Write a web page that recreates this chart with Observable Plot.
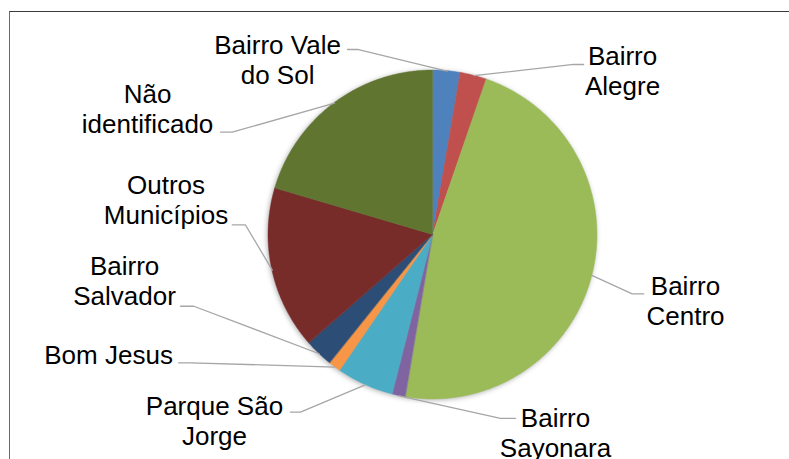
<!DOCTYPE html>
<html><head><meta charset="utf-8">
<script src="https://cdn.jsdelivr.net/npm/d3@7"></script>
<script src="https://cdn.jsdelivr.net/npm/@observablehq/plot@0.6"></script>
<style>
html,body{margin:0;padding:0;background:#fff;}
#wrap{position:relative;width:789px;height:459px;overflow:hidden;}
#border{position:absolute;left:9px;top:11px;width:800px;height:500px;border-top:1px solid #3a3a3a;border-left:1px solid #6a6a6a;pointer-events:none;}
#wrap svg g[aria-label="area"]{filter:drop-shadow(-1px 1px 2.5px rgba(0,0,0,0.3));}
</style></head><body>
<div id="wrap"><div id="border"></div></div>
<script>
// ---- data ----
const categories = ["Bairro Vale do Sol","Bairro Alegre","Bairro Centro","Bairro Sayonara","Parque São Jorge","Bom Jesus","Bairro Salvador","Outros Municípios","Não identificado"];
const values = [2.7, 2.6, 47.3, 1.3, 5.6, 1.2, 2.8, 16.0, 20.4];
const labels = ["Bairro Vale\ndo Sol","Bairro\nAlegre","Bairro\nCentro","Bairro\nSayonara","Parque São\nJorge","Bom Jesus","Bairro\nSalvador","Outros\nMunicípios","Não\nidentificado"];
const colors = ["#4F81BD","#C0504D","#9BBB59","#8064A2","#4BACC6","#F79646","#2C4D75","#772C2A","#5F7530"];

// ---- layout (px) ----
const W = 789, H = 459, CX = 432.5, CY = 234.5, R = 164.5;
// label centre offset from the slice's rim midpoint
const labelOffset = [[-169.4,-12.1],[148.6,-5.2],[93.1,24.9],[156.4,36.2],[-150.8,35.3],[-226.4,-12.6],[-194.6,-72.9],[-106.3,-71.1],[-187,5.6]];
// leader end and elbow, relative to label centre: [endX, endY, elbowX, elbowY]
const leaderRel = [[70,-9.5,80,-9.5],[-39,-6,-49,-6],[-41.7,-6.7,-53.3,-6.7],[-40,-13.7,-55,-13.7],[76,-8,86,-8],[70,8.3,82,8.3],[56,25.4,69.3,25.4],[66.2,25.9,79.5,25.9],[73,23.3,84.7,23.3]];

const arcs = d3.pie().sort(null).value(d => d)(values);
const slicePts = [];
const labelRows = [];
const leaderPts = [];
arcs.forEach((a, i) => {
  const n = Math.max(2, Math.ceil((a.endAngle - a.startAngle) / (Math.PI / 360)));
  for (let k = 0; k <= n; k++) {
    const t = a.startAngle + (a.endAngle - a.startAngle) * k / n;
    slicePts.push({name: categories[i], x: Math.sin(t), y: Math.cos(t)});
  }
  const mid = (a.startAngle + a.endAngle) / 2;
  const ax = Math.sin(mid), ay = Math.cos(mid);
  const lx = ax + labelOffset[i][0] / R, ly = ay - labelOffset[i][1] / R;
  labelRows.push({name: categories[i], text: labels[i], x: lx, y: ly});
  const [ex, ey, bx, by] = leaderRel[i];
  leaderPts.push({name: categories[i], x: ax, y: ay});
  leaderPts.push({name: categories[i], x: lx + bx / R, y: ly - by / R});
  leaderPts.push({name: categories[i], x: lx + ex / R, y: ly - ey / R});
});

const chart = Plot.plot({
  width: W, height: H, margin: 0,
  style: {fontFamily: "'Liberation Sans', Arial, sans-serif", background: "transparent"},
  x: {domain: [-CX / R, (W - CX) / R], axis: null},
  y: {domain: [-(H - CY) / R, CY / R], axis: null},
  color: {domain: categories, range: colors},
  marks: [
    Plot.area(slicePts, {x1: "x", y1: "y", x2: d => 0, y2: d => 0, z: "name", fill: "name", stroke: "name", strokeWidth: 0.4}),
    Plot.line(leaderPts, {x: "x", y: "y", z: "name", stroke: "#a6a6a6", strokeWidth: 1.3}),
    Plot.text(labelRows, {x: "x", y: "y", text: "text", fontSize: 26, lineHeight: 30 / 26, textAnchor: "middle", lineAnchor: "middle", fill: "#000"})
  ]
});
document.getElementById("wrap").prepend(chart);
</script>
</body></html>
